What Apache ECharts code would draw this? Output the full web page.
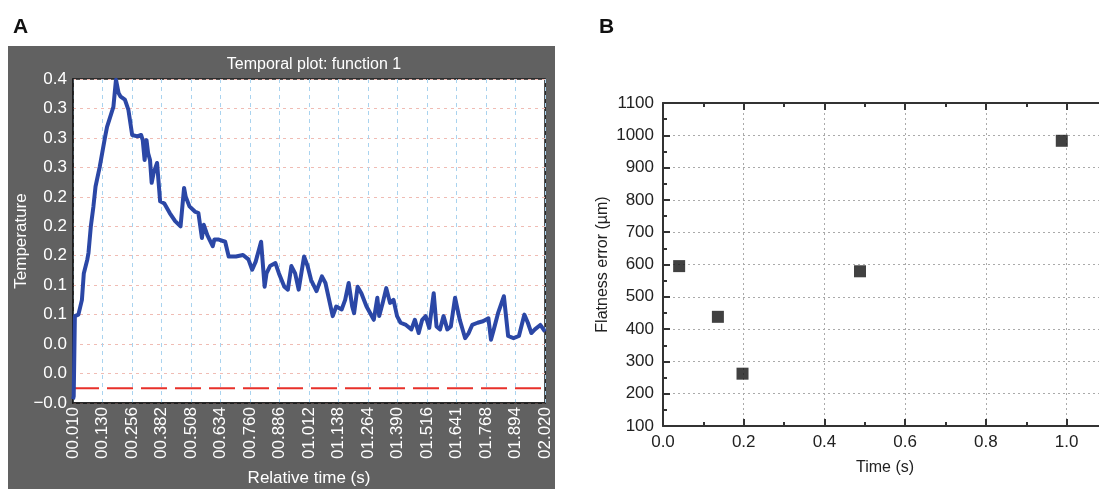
<!DOCTYPE html>
<html><head><meta charset="utf-8">
<script src="https://cdn.jsdelivr.net/npm/echarts@6/dist/echarts.min.js"></script>
<style>html,body{margin:0;padding:0;background:#fff}#c{width:1099px;height:489px}</style>
</head><body><div id="c"></div><script>
// Panel A: temporal plot
const timeA = [0.010,0.013,0.018,0.033,0.048,0.056,0.071,0.076,0.086,0.097,0.106,0.124,0.147,0.155,0.182,0.193,0.204,0.213,0.231,0.246,0.262,0.284,0.300,0.307,0.315,0.323,0.330,0.338,0.345,0.353,0.368,0.376,0.381,0.399,0.422,0.445,0.468,0.483,0.490,0.506,0.529,0.544,0.559,0.567,0.582,0.605,0.612,0.631,0.658,0.673,0.704,0.734,0.757,0.773,0.788,0.811,0.826,0.834,0.849,0.872,0.887,0.910,0.925,0.940,0.956,0.971,0.994,1.009,1.024,1.047,1.070,1.085,1.116,1.131,1.154,1.169,1.184,1.199,1.207,1.222,1.238,1.260,1.291,1.306,1.314,1.329,1.344,1.360,1.375,1.390,1.405,1.428,1.451,1.466,1.482,1.497,1.512,1.527,1.546,1.558,1.573,1.588,1.604,1.619,1.637,1.657,1.680,1.695,1.710,1.733,1.756,1.779,1.790,1.802,1.820,1.845,1.863,1.886,1.909,1.932,1.947,1.962,1.977,2.000,2.020];
const tempA = [-0.035,-0.031,0.078,0.080,0.100,0.136,0.155,0.164,0.200,0.227,0.254,0.281,0.322,0.335,0.362,0.399,0.381,0.376,0.372,0.358,0.324,0.322,0.324,0.317,0.290,0.317,0.299,0.290,0.259,0.272,0.286,0.254,0.234,0.231,0.218,0.207,0.200,0.252,0.240,0.227,0.220,0.218,0.184,0.202,0.188,0.173,0.182,0.182,0.179,0.159,0.159,0.161,0.155,0.141,0.152,0.179,0.118,0.136,0.146,0.150,0.136,0.118,0.114,0.146,0.136,0.114,0.159,0.146,0.127,0.112,0.132,0.123,0.078,0.091,0.087,0.100,0.123,0.091,0.082,0.118,0.109,0.091,0.073,0.103,0.078,0.096,0.116,0.096,0.100,0.078,0.069,0.066,0.060,0.073,0.055,0.073,0.078,0.062,0.109,0.064,0.060,0.078,0.060,0.064,0.103,0.073,0.048,0.055,0.066,0.069,0.071,0.075,0.046,0.060,0.082,0.105,0.051,0.048,0.051,0.080,0.069,0.055,0.060,0.066,0.057];
const xTickLabelsA = ['00.010','00.130','00.256','00.382','00.508','00.634','00.760','00.886','01.012','01.138','01.264','01.390','01.516','01.641','01.768','01.894','02.020'];
const yTickLabelsA = ['\u22120.0','0.0','0.0','0.1','0.1','0.2','0.2','0.2','0.3','0.3','0.3','0.4'];
const thresholdA = -0.02;
const T0 = 0.010, X_STEP = 0.125625, Y_MIN = -0.04, Y_STEP = 0.04;

// Panel B: flatness error
const timeB = [0.040, 0.136, 0.197, 0.488, 0.988];
const errorB = [595, 438, 262, 579, 983];

const FONT = 'Liberation Sans, Arial, Helvetica, sans-serif';
const chart = echarts.init(document.getElementById('c'));
const lineData = timeA.map((t, i) => [t - T0, tempA[i]]);
const xEnd = (xTickLabelsA.length - 1) * X_STEP;

chart.setOption({
  animation: false,
  backgroundColor: '#fff',
  graphic: [
    { type: 'rect', z: -100, shape: { x: 8, y: 46, width: 547, height: 443 }, style: { fill: '#616161' } }
  ],
  title: [
    { text: 'A', left: 8, top: 12, textStyle: { fontFamily: FONT, fontSize: 21, fontWeight: 'bold', color: '#111' } },
    { text: 'B', left: 594, top: 12, textStyle: { fontFamily: FONT, fontSize: 21, fontWeight: 'bold', color: '#111' } },
    { text: 'Temporal plot: function 1', left: 309, textAlign: 'center', top: 52, textStyle: { fontFamily: FONT, fontSize: 16, fontWeight: 'normal', color: '#fff' } }
  ],
  grid: [
    { left: 73, top: 79, width: 472, height: 324, show: true, backgroundColor: '#fff', borderColor: '#1a1a1a', borderWidth: 1.5, outerBoundsMode: 'none', containLabel: false },
    { left: 663, top: 103, width: 444, height: 323, show: false, outerBoundsMode: 'none', containLabel: false }
  ],
  xAxis: [
    { gridIndex: 0, type: 'value', min: 0, max: xEnd, interval: X_STEP,
      name: 'Relative time (s)', nameLocation: 'middle', nameGap: 67,
      nameTextStyle: { color: '#fff', fontFamily: FONT, fontSize: 17 },
      axisLine: { onZero: false, lineStyle: { color: '#1a1a1a', width: 1.5 } }, axisTick: { show: false },
      axisLabel: { rotate: 90, margin: 4, color: '#fff', fontFamily: FONT, fontSize: 17,
        formatter: v => xTickLabelsA[Math.round(v / X_STEP)] || '' },
      splitLine: { show: true, lineStyle: { color: '#a9d3ef', type: [4, 4], width: 1 } } },
    { gridIndex: 1, type: 'value', min: 0, max: 1.1, interval: 0.2,
      name: 'Time (s)', nameLocation: 'middle', nameGap: 34,
      nameTextStyle: { color: '#222', fontFamily: FONT, fontSize: 16 },
      axisLine: { onZero: false, lineStyle: { color: '#333', width: 2 } },
      axisTick: { inside: true, length: 7, lineStyle: { color: '#333', width: 2 } },
      minorTick: { show: true, splitNumber: 2, length: 4, lineStyle: { color: '#333', width: 2 } },
      axisLabel: { margin: 8, color: '#222', fontFamily: FONT, fontSize: 17, showMaxLabel: false,
        formatter: v => v.toFixed(1) },
      splitLine: { show: true, lineStyle: { color: '#aaa', type: [2, 3], width: 1 } } },
    { gridIndex: 1, type: 'value', position: 'top', min: 0, max: 1.1, interval: 0.2,
      axisLine: { onZero: false, lineStyle: { color: '#333', width: 2 } },
      axisTick: { inside: true, length: 7, lineStyle: { color: '#333', width: 2 } },
      minorTick: { show: true, splitNumber: 2, length: 4, lineStyle: { color: '#333', width: 2 } },
      axisLabel: { show: false }, splitLine: { show: false } }
  ],
  yAxis: [
    { gridIndex: 0, type: 'value', min: Y_MIN, max: Y_MIN + (yTickLabelsA.length - 1) * Y_STEP, interval: Y_STEP,
      name: 'Temperature', nameLocation: 'middle', nameGap: 38,
      nameTextStyle: { color: '#fff', fontFamily: FONT, fontSize: 17 },
      axisLine: { show: true, onZero: false, lineStyle: { color: '#1a1a1a', width: 1.5 } }, axisTick: { show: false },
      axisLabel: { margin: 6, color: '#fff', fontFamily: FONT, fontSize: 17,
        formatter: v => yTickLabelsA[Math.round((v - Y_MIN) / Y_STEP)] || '' },
      splitLine: { show: true, lineStyle: { color: '#f0bcb4', type: [3, 4], width: 1 } } },
    { gridIndex: 1, type: 'value', min: 100, max: 1100, interval: 100,
      name: 'Flatness error (\u00b5m)', nameLocation: 'middle', nameGap: 52,
      nameTextStyle: { color: '#222', fontFamily: FONT, fontSize: 16 },
      axisLine: { show: true, onZero: false, lineStyle: { color: '#333', width: 2 } },
      axisTick: { inside: true, length: 7, lineStyle: { color: '#333', width: 2 } },
      minorTick: { show: true, splitNumber: 2, length: 4, lineStyle: { color: '#333', width: 2 } },
      axisLabel: { margin: 9, color: '#222', fontFamily: FONT, fontSize: 17, formatter: v => String(v) },
      splitLine: { show: true, lineStyle: { color: '#aaa', type: [2, 3], width: 1 } } }
  ],
  series: [
    { type: 'line', xAxisIndex: 0, yAxisIndex: 0, data: [[0, thresholdA], [xEnd, thresholdA]],
      symbol: 'none', lineStyle: { color: '#e8302a', width: 2, type: [26, 8] }, z: 3 },
    { type: 'line', xAxisIndex: 0, yAxisIndex: 0, data: lineData, symbol: 'none',
      lineStyle: { color: '#2b47a6', width: 4, join: 'round' }, z: 4 },
    { type: 'scatter', xAxisIndex: 1, yAxisIndex: 1, data: timeB.map((t, i) => [t, errorB[i]]),
      symbol: 'rect', symbolSize: 12, itemStyle: { color: '#111' } }
  ]
});
</script></body></html>
